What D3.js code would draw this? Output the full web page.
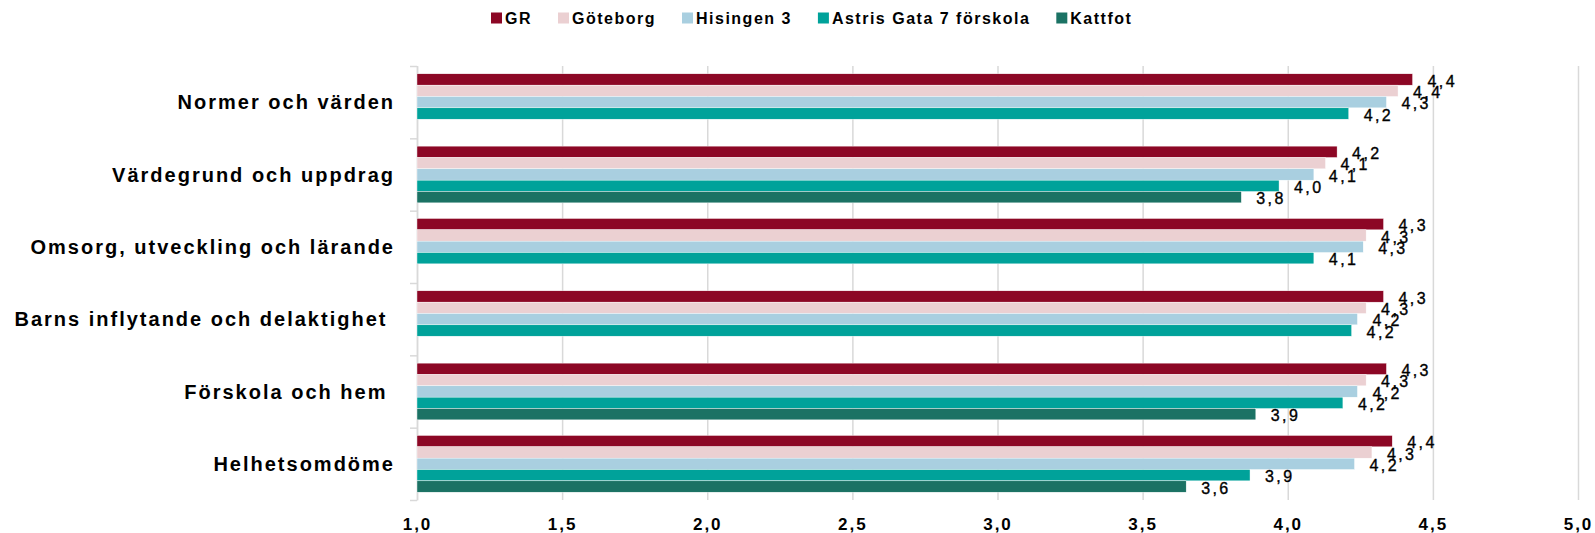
<html>
  <head>
    <meta charset="UTF-8">
    <script src="https://cdnjs.cloudflare.com/ajax/libs/d3/7.8.5/d3.min.js"></script>
    <style>
      body {
        margin: 0;
        background: #fff;
        font-family: 'Liberation Sans', Arial, sans-serif;
      }
      .cat-label {
        font-size: 20px;
        font-weight: bold;
        letter-spacing: 2px;
        white-space: pre;
        fill: #000;
      }
      .val-label {
        font-size: 16px;
        letter-spacing: 2.4px;
        fill: #000;
        stroke: #000;
        stroke-width: 0.35px;
      }
      .x-axis text {
        font-size: 17px;
        font-weight: bold;
        letter-spacing: 2px;
        fill: #000;
      }
      .legend-text {
        font-size: 16px;
        font-weight: bold;
        letter-spacing: 1.5px;
        fill: #000;
      }
    </style>
  </head>
  <body>
    <svg id="chart"></svg>
    <script>
      // categories (trailing spaces are in the original labels)
      const categories = [
        'Normer och värden',
        'Värdegrund och uppdrag',
        'Omsorg, utveckling och lärande',
        'Barns inflytande och delaktighet ',
        'Förskola och hem ',
        'Helhetsomdöme'
      ]
      const seriesNames = ['GR', 'Göteborg', 'Hisingen 3', 'Astris Gata 7 förskola', 'Kattfot']
      const seriesColors = ['#8c0725', '#ebd0d2', '#a9cfe0', '#00a29a', '#1b7264']

      const grValues = [4.43, 4.17, 4.33, 4.33, 4.34, 4.36]
      const goteborgValues = [4.38, 4.13, 4.27, 4.27, 4.27, 4.29]
      const hisingenValues = [4.34, 4.09, 4.26, 4.24, 4.24, 4.23]
      const astrisValues = [4.21, 3.97, 4.09, 4.22, 4.19, 3.87]
      const kattfotValues = [null, 3.84, null, null, 3.89, 3.65]

      const xTicks = [1.0, 1.5, 2.0, 2.5, 3.0, 3.5, 4.0, 4.5, 5.0]

      const allValues = [grValues, goteborgValues, hisingenValues, astrisValues, kattfotValues]

      const width = 1595
      const height = 533
      const margin = { top: 66, right: 17, bottom: 33, left: 417 }

      const svg = d3.select('#chart')
        .attr('width', width)
        .attr('height', height)

      const x = d3.scaleLinear()
        .domain([1, 5])
        .range([margin.left, width - margin.right])

      const y = d3.scaleBand()
        .domain(categories)
        .range([margin.top, height - margin.bottom])
        .paddingInner(0.216)
        .paddingOuter(0.108)

      const ySeries = d3.scaleBand()
        .domain(seriesNames)
        .range([0, y.bandwidth()])

      const fmt = v => d3.format('.1f')(v).replace('.', ',')

      // gridlines + x labels
      const xAxis = svg.append('g')
        .attr('class', 'x-axis')
        .attr('transform', `translate(0, ${height - margin.bottom})`)
        .call(d3.axisBottom(x)
          .tickValues(xTicks)
          .tickFormat(fmt)
          .tickSizeInner(-(height - margin.bottom - margin.top))
          .tickSizeOuter(0)
          .tickPadding(18))
      xAxis.select('.domain').remove()
      xAxis.selectAll('line')
        .attr('stroke', '#d9d9d9')
        .attr('stroke-width', 1.5)
      xAxis.selectAll('text')
        .attr('font-family', null)
        .attr('font-size', null)

      // y axis with ticks between categories
      const yEdges = d3.scaleLinear()
        .domain([0, categories.length])
        .range([margin.top, height - margin.bottom])
      const yAxis = svg.append('g')
        .attr('transform', `translate(${margin.left}, 0)`)
        .call(d3.axisLeft(yEdges)
          .tickValues(d3.range(categories.length + 1))
          .tickFormat('')
          .tickSizeInner(7)
          .tickSizeOuter(0))
      yAxis.selectAll('line, path')
        .attr('stroke', '#d9d9d9')
        .attr('stroke-width', 1.5)

      // category labels
      svg.append('g')
        .selectAll('text')
        .data(categories)
        .join('text')
        .attr('class', 'cat-label')
        .attr('x', margin.left - 22)
        .attr('y', d => y(d) + y.bandwidth() / 2)
        .attr('dy', '0.35em')
        .attr('text-anchor', 'end')
        .text(d => d)

      // bars
      const rows = []
      categories.forEach((c, i) => {
        seriesNames.forEach((s, j) => {
          const v = allValues[j][i]
          if (v != null) rows.push({ cat: c, series: s, value: v, color: seriesColors[j] })
        })
      })

      const bars = svg.append('g')
      bars.selectAll('rect')
        .data(rows)
        .join('rect')
        .attr('x', x(1))
        .attr('y', d => y(d.cat) + ySeries(d.series))
        .attr('width', d => x(d.value) - x(1))
        .attr('height', ySeries.bandwidth())
        .attr('fill', d => d.color)
        .attr('stroke', '#fff')
        .attr('stroke-width', 0.4)

      // value labels
      svg.append('g')
        .selectAll('text')
        .data(rows)
        .join('text')
        .attr('class', 'val-label')
        .attr('x', d => x(d.value) + 15)
        .attr('y', d => y(d.cat) + ySeries(d.series) + ySeries.bandwidth() / 2 + 1.5)
        .attr('dy', '0.35em')
        .text(d => fmt(d.value))

      // legend
      const legend = svg.append('g')
      let lx = 491
      seriesNames.forEach((s, j) => {
        legend.append('rect')
          .attr('x', lx)
          .attr('y', 12.5)
          .attr('width', 11)
          .attr('height', 11)
          .attr('fill', seriesColors[j])
        const t = legend.append('text')
          .attr('class', 'legend-text')
          .attr('x', lx + 14)
          .attr('y', 18)
          .attr('dy', '0.35em')
          .text(s)
        lx += 14 + t.node().getComputedTextLength() + 26
      })
    </script>
  </body>
</html>
